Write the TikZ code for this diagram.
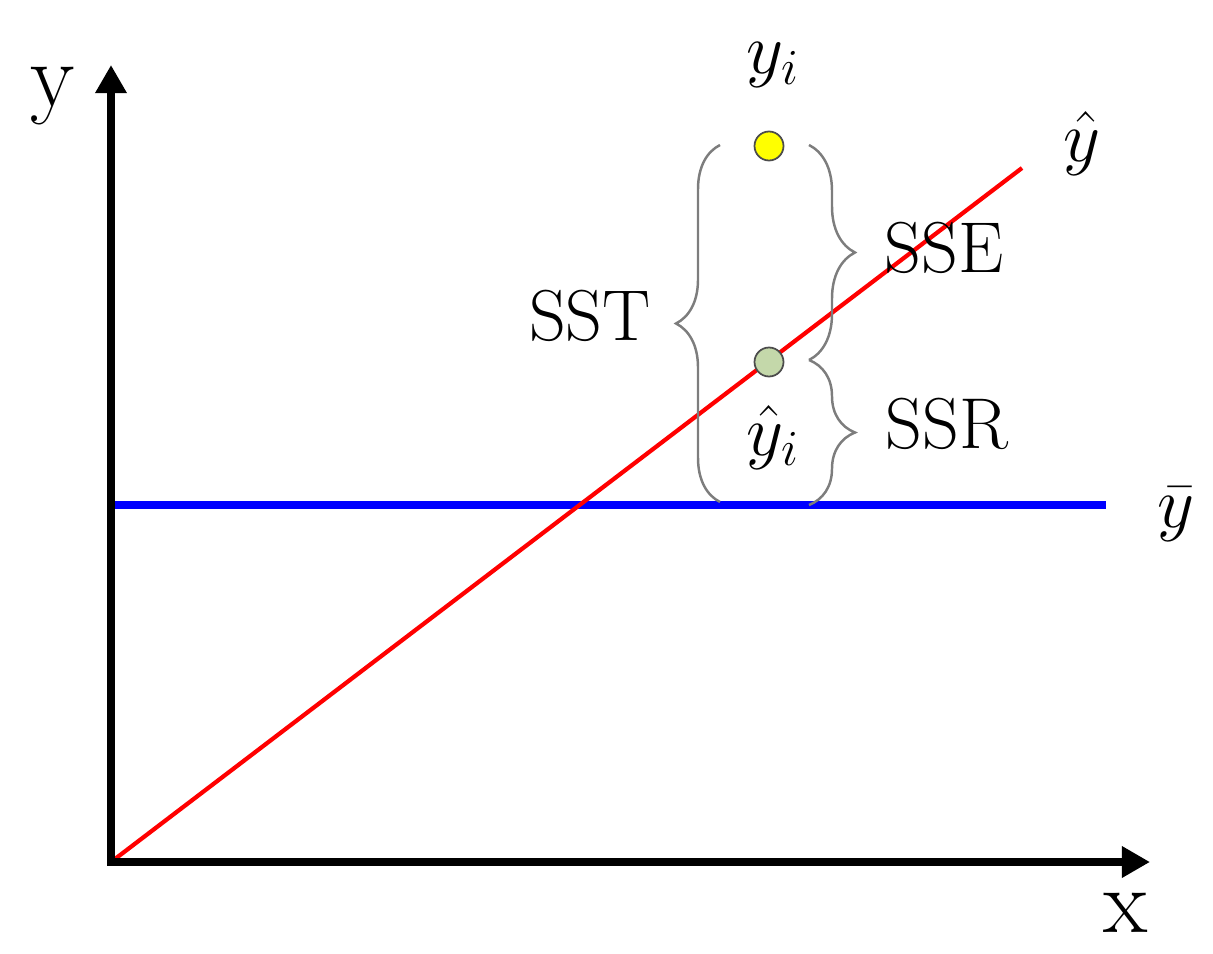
\RequirePackage{fix-cm}
\documentclass[tikz,border=0pt]{standalone}
\usetikzlibrary{arrows.meta,decorations.pathreplacing}
\definecolor{ptyellow}{RGB}{255,255,0}
\definecolor{ptgreen}{RGB}{196,216,170}
\definecolor{bracegray}{RGB}{125,125,125}
\begin{document}
\begin{tikzpicture}[x=0.02cm,y=-0.02cm,
  axis/.style={line width=5pt, line join=miter},
  lbl/.style={font=\fontsize{41}{48}\selectfont, inner sep=0pt},
  axlbl/.style={font=\fontsize{52}{60}\selectfont, inner sep=0pt},
  dot/.style={circle, draw=black!70, line width=1pt, minimum size=0.58cm, inner sep=0pt},
  brc/.style={draw=bracegray, line width=1.4pt, decorate, decoration={brace, amplitude=#1}},
]
\useasboundingbox (0,0) rectangle (1213,953);
% axes and lines
\coordinate (O) at (111,862);
\coordinate (ytop) at (111,65);
\coordinate (xend) at (1150,862);
\coordinate (ybarL) at (111,505);
\coordinate (ybarR) at (1106,505);
\coordinate (yhatE) at (1022,168);
\draw[blue, line width=5pt] (ybarL) -- (ybarR);
\draw[red, line width=2.4pt] (O) -- (yhatE);
\draw[axis, {Triangle[length=16pt,width=17pt]}-{Triangle[length=16pt,width=17pt]}] (ytop) -- (O) -- (xend);
% braces
\coordinate (sstB) at (720,502);
\coordinate (sstT) at (720,145);
\coordinate (sseT) at (809,145);
\coordinate (sseB) at (809,360);
\coordinate (ssrT) at (809,360);
\coordinate (ssrB) at (809,505);
\draw[brc=0.88cm] (sstB) -- (sstT);
\draw[brc=0.92cm] (sseT) -- (sseB);
\draw[brc=0.92cm] (ssrT) -- (ssrB);
% points
\node[dot, fill=ptyellow] (yi) at (769,146) {};
\node[dot, fill=ptgreen] (yhi) at (769,362) {};
% labels
\node[axlbl, anchor=base] (ylab) at (53,107) {y};
\node[axlbl, anchor=base] (xlab) at (1126,932) {x};
\node[lbl] (yilab) at (773,65) {$y_i$};
\node[lbl] (yhilab) at (773,437) {$\hat{y}_i$};
\node[lbl] (yhatlab) at (1082,143) {$\hat{y}$};
\node[lbl] (ybarlab) at (1176,514) {$\bar{y}$};
\node[lbl] (sst) at (590,316) {SST};
\node[lbl] (sse) at (944,248) {SSE};
\node[lbl] (ssr) at (947,424) {SSR};
\end{tikzpicture}
\end{document}
